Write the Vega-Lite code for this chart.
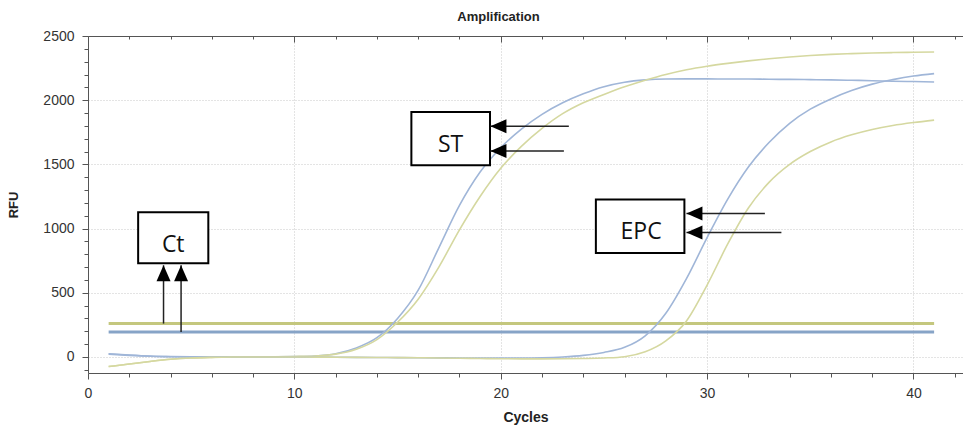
{
  "$schema": "https://vega.github.io/schema/vega-lite/v6.json",
  "width": 875,
  "height": 337,
  "autosize": {"type": "none"},
  "padding": {"left": 88, "top": 36, "right": 0, "bottom": 52},
  "background": "white",
  "config": {"view": {"stroke": null}, "font": "Liberation Sans"},
  "title": {"text": "Amplification", "fontSize": 13, "fontWeight": "bold", "color": "#222", "anchor": "middle", "offset": 5, "dx": -27},
  "resolve": {"axis": {"x": "independent", "y": "independent"}},
  "datasets": {
    "curves": [
      {"cycle": 1, "ST blue": 22, "ST yellow": -75, "EPC blue": 25, "EPC yellow": -75},
      {"cycle": 2, "ST blue": 12, "ST yellow": -55, "EPC blue": 15, "EPC yellow": -55},
      {"cycle": 3, "ST blue": 5, "ST yellow": -35, "EPC blue": 7, "EPC yellow": -35},
      {"cycle": 4, "ST blue": 2, "ST yellow": -18, "EPC blue": 3, "EPC yellow": -18},
      {"cycle": 5, "ST blue": 0, "ST yellow": -8, "EPC blue": 1, "EPC yellow": -8},
      {"cycle": 6, "ST blue": -1, "ST yellow": -3, "EPC blue": 0, "EPC yellow": -3},
      {"cycle": 7, "ST blue": -1, "ST yellow": 0, "EPC blue": 0, "EPC yellow": 0},
      {"cycle": 8, "ST blue": 0, "ST yellow": 1, "EPC blue": 0, "EPC yellow": 0},
      {"cycle": 9, "ST blue": 1, "ST yellow": 2, "EPC blue": 0, "EPC yellow": 0},
      {"cycle": 10, "ST blue": 3, "ST yellow": 4, "EPC blue": 0, "EPC yellow": 0},
      {"cycle": 11, "ST blue": 8, "ST yellow": 8, "EPC blue": -1, "EPC yellow": -1},
      {"cycle": 12, "ST blue": 25, "ST yellow": 22, "EPC blue": -2, "EPC yellow": -2},
      {"cycle": 13, "ST blue": 70, "ST yellow": 60, "EPC blue": -3, "EPC yellow": -3},
      {"cycle": 14, "ST blue": 150, "ST yellow": 135, "EPC blue": -4, "EPC yellow": -4},
      {"cycle": 15, "ST blue": 300, "ST yellow": 270, "EPC blue": -5, "EPC yellow": -5},
      {"cycle": 16, "ST blue": 520, "ST yellow": 450, "EPC blue": -6, "EPC yellow": -6},
      {"cycle": 17, "ST blue": 850, "ST yellow": 700, "EPC blue": -7, "EPC yellow": -8},
      {"cycle": 18, "ST blue": 1180, "ST yellow": 990, "EPC blue": -8, "EPC yellow": -10},
      {"cycle": 19, "ST blue": 1440, "ST yellow": 1250, "EPC blue": -8, "EPC yellow": -12},
      {"cycle": 20, "ST blue": 1630, "ST yellow": 1470, "EPC blue": -8, "EPC yellow": -14},
      {"cycle": 21, "ST blue": 1775, "ST yellow": 1640, "EPC blue": -8, "EPC yellow": -15},
      {"cycle": 22, "ST blue": 1890, "ST yellow": 1780, "EPC blue": -6, "EPC yellow": -15},
      {"cycle": 23, "ST blue": 1980, "ST yellow": 1895, "EPC blue": 0, "EPC yellow": -14},
      {"cycle": 24, "ST blue": 2050, "ST yellow": 1980, "EPC blue": 12, "EPC yellow": -12},
      {"cycle": 25, "ST blue": 2105, "ST yellow": 2045, "EPC blue": 35, "EPC yellow": -8},
      {"cycle": 26, "ST blue": 2140, "ST yellow": 2105, "EPC blue": 75, "EPC yellow": 2},
      {"cycle": 27, "ST blue": 2158, "ST yellow": 2155, "EPC blue": 165, "EPC yellow": 40},
      {"cycle": 28, "ST blue": 2165, "ST yellow": 2200, "EPC blue": 340, "EPC yellow": 125},
      {"cycle": 29, "ST blue": 2166, "ST yellow": 2237, "EPC blue": 610, "EPC yellow": 280},
      {"cycle": 30, "ST blue": 2166, "ST yellow": 2265, "EPC blue": 930, "EPC yellow": 560},
      {"cycle": 31, "ST blue": 2165, "ST yellow": 2287, "EPC blue": 1230, "EPC yellow": 880},
      {"cycle": 32, "ST blue": 2165, "ST yellow": 2306, "EPC blue": 1480, "EPC yellow": 1160},
      {"cycle": 33, "ST blue": 2163, "ST yellow": 2323, "EPC blue": 1670, "EPC yellow": 1360},
      {"cycle": 34, "ST blue": 2162, "ST yellow": 2337, "EPC blue": 1820, "EPC yellow": 1500},
      {"cycle": 35, "ST blue": 2160, "ST yellow": 2348, "EPC blue": 1930, "EPC yellow": 1600},
      {"cycle": 36, "ST blue": 2158, "ST yellow": 2357, "EPC blue": 2010, "EPC yellow": 1675},
      {"cycle": 37, "ST blue": 2155, "ST yellow": 2363, "EPC blue": 2075, "EPC yellow": 1730},
      {"cycle": 38, "ST blue": 2152, "ST yellow": 2368, "EPC blue": 2125, "EPC yellow": 1772},
      {"cycle": 39, "ST blue": 2148, "ST yellow": 2371, "EPC blue": 2160, "EPC yellow": 1803},
      {"cycle": 40, "ST blue": 2145, "ST yellow": 2373, "EPC blue": 2188, "EPC yellow": 1826},
      {"cycle": 41, "ST blue": 2142, "ST yellow": 2375, "EPC blue": 2207, "EPC yellow": 1845}
    ],
    "thresholds": [
      {"series": "Threshold yellow", "start": 1, "end": 41, "rfu": 260},
      {"series": "Threshold blue", "start": 1, "end": 41, "rfu": 195}
    ],
    "boxes": [
      {"label": "Ct", "x1": 2.43, "x2": 5.83, "y1": 730, "y2": 1127, "tx": 4.13, "ty": 875},
      {"label": "ST", "x1": 15.67, "x2": 19.48, "y1": 1493, "y2": 1908, "tx": 17.57, "ty": 1650},
      {"label": "EPC", "x1": 24.61, "x2": 28.9, "y1": 810, "y2": 1226, "tx": 26.8, "ty": 975}
    ],
    "arrows": [
      {"x1": 3.66, "y1": 260, "x2": 3.66, "y2": 714, "dir": "up"},
      {"x1": 4.51, "y1": 195, "x2": 4.51, "y2": 714, "dir": "up"},
      {"x1": 23.3, "y1": 1797, "x2": 19.5, "y2": 1797, "dir": "left"},
      {"x1": 23.06, "y1": 1604, "x2": 19.5, "y2": 1604, "dir": "left"},
      {"x1": 32.8, "y1": 1117, "x2": 29.0, "y2": 1117, "dir": "left"},
      {"x1": 33.6, "y1": 969, "x2": 29.0, "y2": 969, "dir": "left"}
    ]
  },
  "layer": [
    {
      "data": {"name": "thresholds"},
      "mark": {"type": "rule", "strokeWidth": 3},
      "encoding": {
        "x": {
          "field": "start", "type": "quantitative",
          "scale": {"domain": [0, 42.4], "nice": false, "zero": false},
          "axis": {
            "orient": "top", "values": [0,2,4,6,8,10,12,14,16,18,20,22,24,26,28,30,32,34,36,38,40,42],
            "labels": false, "title": null, "grid": false,
            "domainColor": "#555", "tickColor": "#555",
            "tickSize": {"condition": {"test": "datum.value % 10 === 0", "value": -6}, "value": -3}
          }
        },
        "x2": {"field": "end"},
        "y": {
          "field": "rfu", "type": "quantitative",
          "scale": {"domain": [-125, 2500], "nice": false, "zero": false},
          "axis": {
            "orient": "left",
            "values": [-100,0,100,200,300,400,500,600,700,800,900,1000,1100,1200,1300,1400,1500,1600,1700,1800,1900,2000,2100,2200,2300,2400,2500],
            "format": "d",
            "labelExpr": "datum.value % 500 === 0 ? datum.label : ''",
            "title": "RFU", "titleFontSize": 13, "titleFontWeight": "bold", "titleColor": "#222", "titlePadding": 22,
            "labelFontSize": 14, "labelColor": "#333", "labelPadding": 8,
            "domainColor": "#555", "tickColor": "#555",
            "tickSize": {"condition": {"test": "datum.value % 500 === 0", "value": 6}, "value": 4},
            "grid": true, "gridColor": "#c8c8c8", "gridDash": [1, 2],
            "gridOpacity": {"condition": {"test": "datum.value % 500 === 0 && datum.value < 2500", "value": 1}, "value": 0}
          }
        },
        "color": {
          "field": "series", "type": "nominal", "legend": null,
          "scale": {
            "domain": ["ST blue", "ST yellow", "EPC blue", "EPC yellow", "Threshold blue", "Threshold yellow"],
            "range": ["#a0b6d8", "#d5d8a0", "#a0b6d8", "#d5d8a0", "#87a4c7", "#c4c77e"]
          }
        }
      }
    },
    {
      "data": {"name": "curves"},
      "transform": [{"fold": ["ST blue", "ST yellow", "EPC blue", "EPC yellow"], "as": ["series", "rfu"]}],
      "mark": {"type": "line", "strokeWidth": 1.6, "interpolate": "monotone"},
      "encoding": {
        "x": {
          "field": "cycle", "type": "quantitative",
          "axis": {
            "orient": "bottom", "values": [0,2,4,6,8,10,12,14,16,18,20,22,24,26,28,30,32,34,36,38,40,42],
            "format": "d",
            "labelExpr": "datum.value % 10 === 0 ? datum.label : ''",
            "title": "Cycles", "titleFontSize": 14, "titleFontWeight": "bold", "titleColor": "#222", "titlePadding": 10,
            "labelFontSize": 14, "labelColor": "#333", "labelPadding": 7, "labelFlush": false,
            "domainColor": "#555", "tickColor": "#555",
            "tickSize": {"condition": {"test": "datum.value % 10 === 0", "value": 6}, "value": 4},
            "grid": true, "gridColor": "#c8c8c8", "gridDash": [1, 2],
            "gridOpacity": {"condition": {"test": "datum.value % 10 === 0 && datum.value > 0 && datum.value < 42", "value": 1}, "value": 0}
          }
        },
        "y": {"field": "rfu", "type": "quantitative", "axis": null},
        "color": {"field": "series", "type": "nominal", "legend": null}
      }
    },
    {
      "data": {"name": "boxes"},
      "mark": {"type": "rect", "fill": "white", "stroke": "black", "strokeWidth": 2},
      "encoding": {
        "x": {"field": "x1", "type": "quantitative", "axis": null},
        "x2": {"field": "x2"},
        "y": {"field": "y1", "type": "quantitative", "axis": null},
        "y2": {"field": "y2"}
      }
    },
    {
      "data": {"name": "boxes"},
      "mark": {"type": "text", "font": "Open Sans", "fontSize": 23, "color": "#111", "baseline": "middle", "align": "center"},
      "encoding": {
        "x": {"field": "tx", "type": "quantitative", "axis": null},
        "y": {"field": "ty", "type": "quantitative", "axis": null},
        "text": {"field": "label"}
      }
    },
    {
      "data": {"name": "arrows"},
      "mark": {"type": "rule", "strokeWidth": 1.5, "color": "#222"},
      "encoding": {
        "x": {"field": "x1", "type": "quantitative", "axis": null},
        "x2": {"field": "x2"},
        "y": {"field": "y1", "type": "quantitative", "axis": null},
        "y2": {"field": "y2"}
      }
    },
    {
      "data": {"name": "arrows"},
      "mark": {"type": "point", "filled": true, "color": "black", "opacity": 1, "size": 64},
      "encoding": {
        "x": {"field": "x2", "type": "quantitative", "axis": null},
        "y": {"field": "y2", "type": "quantitative", "axis": null},
        "shape": {
          "field": "dir", "type": "nominal", "legend": null,
          "scale": {"domain": ["up", "left"], "range": ["M0,0L-1.75,4L1.75,4Z", "M0,0L4,-1.75L4,1.75Z"]}
        }
      }
    }
  ]
}
